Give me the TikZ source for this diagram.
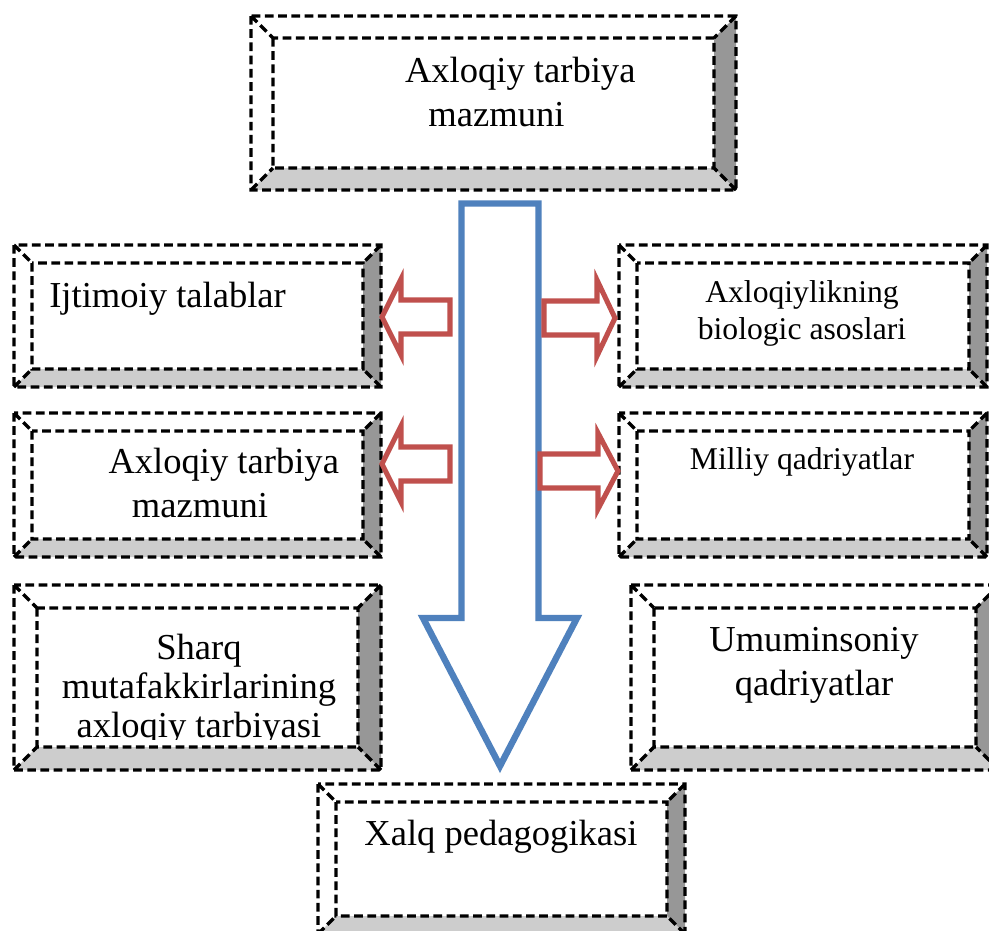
\documentclass[tikz,border=0pt]{standalone}
\usepackage{fontspec}
\setmainfont{Liberation Serif}
\definecolor{boxdark}{HTML}{979797}
\definecolor{boxlight}{HTML}{CDCDCD}
\definecolor{flowblue}{HTML}{4F81BD}
\definecolor{sidered}{HTML}{C0504D}
\tikzset{
  dashedge/.style={black, line width=2.4pt, dash pattern=on 6.2pt off 3.2pt},
  darkside/.style={fill=boxdark},
  lightside/.style={fill=boxlight},
  bigtxt/.style={font=\fontsize{26}{30.6}\selectfont, inner sep=0pt, align=center, anchor=base},
  smalltxt/.style={font=\fontsize{22.5}{26.3}\selectfont, inner sep=0pt, align=center, anchor=base},
  bluearrow/.style={draw=flowblue, fill=white, line width=4.6pt, line join=miter},
  redarrow/.style={draw=sidered, fill=white, line width=3.6pt, line join=miter}
}
\begin{document}
\begin{tikzpicture}[x=0.025cm,y=-0.025cm]
  \useasboundingbox (0,0) rectangle (989,930);
  \foreach \nm/\xa/\ya/\xb/\yb/\d in {top/251/16/736/190/22, social/14/245/381/387/18,
      content/14/413/381/557/18, eastern/14/585/381/770/23, bio/619/245/987/387/18,
      national/619/413/987/557/18, universal/631/585/999/770/23, folk/318/784/685/934/18} {
    \fill[darkside] (\xb,\ya) -- (\xb,\yb) -- (\xb-\d,\yb-\d) -- (\xb-\d,\ya+\d) -- cycle;
    \fill[lightside] (\xa,\yb) -- (\xb,\yb) -- (\xb-\d,\yb-\d) -- (\xa+\d,\yb-\d) -- cycle;
    \draw[dashedge] (\xa,\ya) rectangle (\xb,\yb) (\xa+\d,\ya+\d) rectangle (\xb-\d,\yb-\d)
      (\xa,\ya) -- +(\d,\d) (\xb,\ya) -- +(-\d,\d) (\xa,\yb) -- +(\d,-\d) (\xb,\yb) -- +(-\d,-\d);
  }
  \draw[bluearrow] (461.5,203.5) -- (538.5,203.5) -- (538.5,618) -- (577,618) -- (500,766)
    -- (423,618) -- (461.5,618) -- cycle;
  \foreach \tx/\hx/\ex/\ty in {382/401/450/317, 382/401/450/464, 615/597/544/318, 618/598/540/471}
    \draw[redarrow] (\tx,\ty) -- (\hx,\ty-38) -- (\hx,\ty-17) -- (\ex,\ty-17) -- (\ex,\ty+17)
      -- (\hx,\ty+17) -- (\hx,\ty+38) -- cycle;
  \node[bigtxt] (head) at (496.5,126) {\hspace*{1.3em}Axloqiy tarbiya\\mazmuni};
  \node[bigtxt, anchor=base west] (social) at (49,307) {Ijtimoiy talablar};
  \node[bigtxt] (content) at (200,517) {\hspace*{1.3em}Axloqiy tarbiya\\mazmuni};
  \begin{scope}
    \clip (36,609) rectangle (359,739);
    \node[bigtxt, font=\fontsize{26}{27.4}\selectfont] (eastern) at (199,737)
      {Sharq\\mutafakkirlarining\\axloqiy tarbiyasi};
  \end{scope}
  \node[smalltxt] (bio) at (802,339) {Axloqiylikning\\biologic asoslari};
  \node[smalltxt] (national) at (802,469) {Milliy qadriyatlar};
  \node[bigtxt] (universal) at (814,695) {Umuminsoniy\\qadriyatlar};
  \node[bigtxt] (folk) at (501,845) {Xalq pedagogikasi};
\end{tikzpicture}
\end{document}
